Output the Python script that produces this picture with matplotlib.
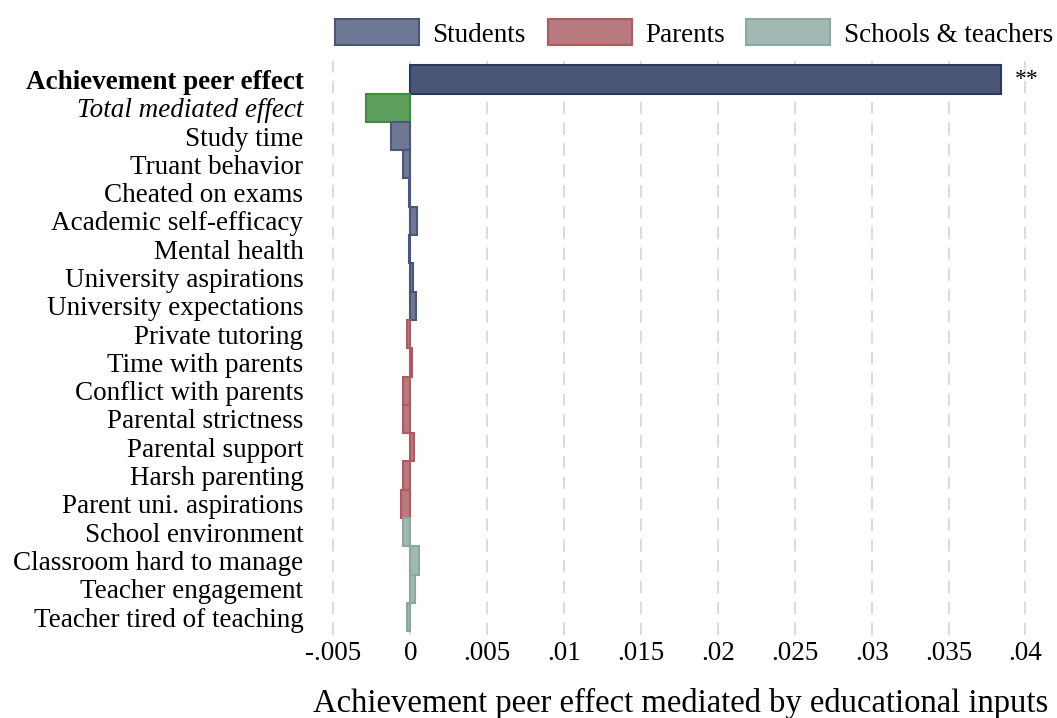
import numpy as np
import matplotlib.pyplot as plt
from matplotlib.patches import Patch

plt.rcParams['font.family'] = ['Liberation Serif', 'DejaVu Serif']

labels = ['Achievement peer effect', 'Total mediated effect', 'Study time', 'Truant behavior',
          'Cheated on exams', 'Academic self-efficacy', 'Mental health', 'University aspirations',
          'University expectations', 'Private tutoring', 'Time with parents',
          'Conflict with parents', 'Parental strictness', 'Parental support', 'Harsh parenting',
          'Parent uni. aspirations', 'School environment', 'Classroom hard to manage',
          'Teacher engagement', 'Teacher tired of teaching']
values = [0.0384, -0.00286, -0.00128, -0.00044, -0.00005, 0.00047, -0.00008, 0.0002,
          0.0004, -0.0002, 0.0001, -0.00045, -0.00045, 0.00025, -0.00045, -0.00063,
          -0.00045, 0.0006, 0.0003, -0.0002]
groups = ['total', 'mediated'] + ['Students'] * 7 + ['Parents'] * 7 + ['Schools & teachers'] * 4

fills = {'total': '#4b5677', 'mediated': '#5e9f5e', 'Students': '#6e7895',
         'Parents': '#b87a7e', 'Schools & teachers': '#a2b8b2'}
edges = {'total': '#2a3760', 'mediated': '#3f8c3f', 'Students': '#4b5679',
         'Parents': '#ae5a63', 'Schools & teachers': '#8ba89f'}

fig = plt.figure(figsize=(10.57, 7.18), dpi=100)
ax = fig.add_axes([0.295, 0.115, 0.697, 0.8])

y = np.arange(len(labels))
for yi, v, g in zip(y, values, groups):
    ax.barh(yi, v, height=1.0, color=fills[g], edgecolor=edges[g], linewidth=1.5, zorder=3)

ax.text(0.0393, 0, '**', ha='left', va='center', fontsize=17, zorder=4)

xticks = [-0.005, 0, 0.005, 0.01, 0.015, 0.02, 0.025, 0.03, 0.035, 0.04]
xticklabels = ['-.005', '0', '.005', '.01', '.015', '.02', '.025', '.03', '.035', '.04']
ax.set_xticks(xticks)
ax.set_xticklabels(xticklabels, fontsize=19.5)
ax.set_xlim(-0.0064, 0.0415)
ax.set_ylim(len(labels) - 0.35, -0.65)
ax.set_yticks(y)
ax.set_yticklabels(labels, fontsize=19.5)
ax.get_yticklabels()[0].set_fontweight('bold')
ax.get_yticklabels()[1].set_fontstyle('italic')
ax.tick_params(axis='y', length=0, pad=6)
ax.tick_params(axis='x', length=0, pad=4)
ax.grid(axis='x', color='#dcdcdc', linestyle=(0, (6, 4)), linewidth=1.5, zorder=0)
for s in ax.spines.values():
    s.set_visible(False)
ax.set_xlabel('Achievement peer effect mediated by educational inputs', fontsize=23.5, labelpad=16)

handles = [Patch(facecolor=fills[k], edgecolor=edges[k], linewidth=1.5, label=k)
           for k in ['Students', 'Parents', 'Schools & teachers']]
fig.legend(handles=handles, ncol=3, loc='upper right', bbox_to_anchor=(1.0195, 1.007),
           frameon=False, fontsize=19.5, handlelength=3.1, handleheight=1.1,
           columnspacing=0.8, handletextpad=0.5)

fig.savefig('out.png', dpi=100)
